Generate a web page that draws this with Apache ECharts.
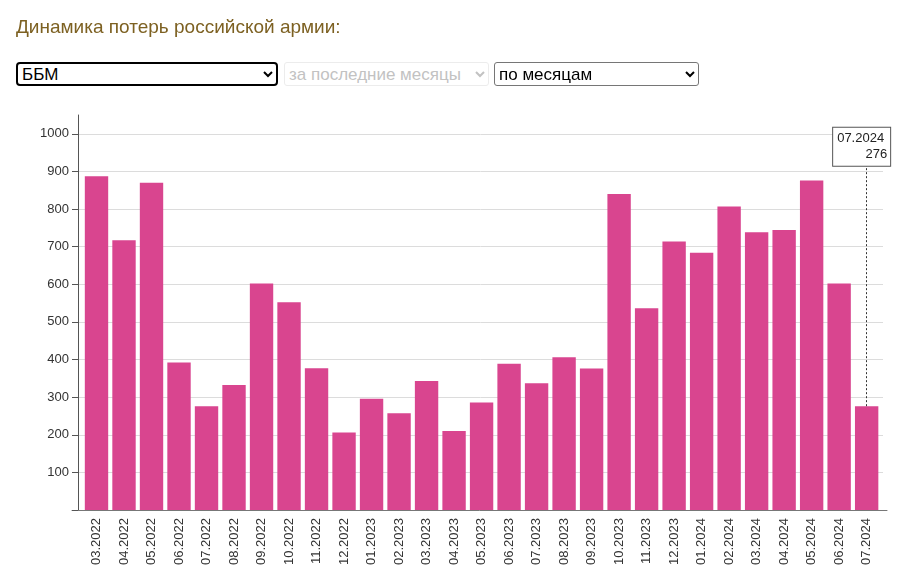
<!DOCTYPE html>
<html>
<head>
<meta charset="utf-8">
<script src="https://cdn.jsdelivr.net/npm/echarts@6/dist/echarts.min.js"></script>
<style>
  html, body { margin: 0; padding: 0; background: #fff; }
  #chart { position: absolute; left: 0; top: 0; width: 908px; height: 588px; }
  select { position: absolute; font-family: Arial, "Liberation Sans", sans-serif; font-size: 17px; height: 24px; box-sizing: border-box; background: #fff; z-index: 10; padding-top: 0; padding-bottom: 0; }
  #s1 { left: 16px; top: 62px; width: 262px; border: 2px solid #000; border-radius: 4px; color: #000; }
  #s2 { left: 284px; top: 62px; width: 205px; border: 1px solid #e4e4e4; border-radius: 3px; color: #a8a8a8; }
  #s3 { left: 494px; top: 62px; width: 205px; border: 1px solid #767676; border-radius: 3px; color: #000; }
</style>
</head>
<body>
<div id="chart"></div>
<select id="s1"><option>ББМ</option></select>
<select id="s2" disabled><option>за последние месяцы</option></select>
<select id="s3"><option>по месяцам</option></select>
<script>
const titleText = 'Динамика потерь российской армии:';
const months = ['03.2022','04.2022','05.2022','06.2022','07.2022','08.2022','09.2022','10.2022','11.2022','12.2022',
  '01.2023','02.2023','03.2023','04.2023','05.2023','06.2023','07.2023','08.2023','09.2023','10.2023','11.2023','12.2023',
  '01.2024','02.2024','03.2024','04.2024','05.2024','06.2024','07.2024'];
const losses = [887,717,870,392,276,332,602,552,377,206,
  296,257,343,210,286,389,337,406,376,840,536,714,
  684,807,738,744,876,602,276];
const yLabelValues = [100,200,300,400,500,600,700,800,900,1000];
const yTickValues = [0,100,200,300,400,500,600,700,800,900,1000];
const highlightIndex = 28;

const FONT = 'Arial, "Liberation Sans", sans-serif';
const chart = echarts.init(document.getElementById('chart'), null, { renderer: 'canvas' });
const hlCat = months[highlightIndex];
const hlVal = losses[highlightIndex];

chart.setOption({
  animation: false,
  backgroundColor: '#fff',
  title: {
    text: titleText, left: 16, top: 18, padding: 0,
    textStyle: { fontFamily: FONT, fontSize: 19, fontWeight: 'normal', color: '#7d6122' }
  },
  grid: [
    { left: 82.75, right: 27.6, top: 115, bottom: 78 },
    { left: 78, right: 25, top: 115, bottom: 78 },
    { left: 72, right: 21, top: 115, bottom: 78 }
  ],
  xAxis: [
    { gridIndex: 0, type: 'category', data: months,
      axisLine: { show: false },
      axisTick: { alignWithLabel: true, length: 5, lineStyle: { color: '#666' } },
      axisLabel: { rotate: 90, fontSize: 13, color: '#333', margin: 8, fontFamily: FONT, interval: 0 },
      splitLine: { show: false } },
    { gridIndex: 1, type: 'value', min: 0, max: 1, show: false },
    { gridIndex: 2, type: 'value', min: 0, max: 1,
      axisLine: { show: true, lineStyle: { color: '#777' } },
      axisTick: { show: false }, axisLabel: { show: false }, splitLine: { show: false } }
  ],
  yAxis: [
    { gridIndex: 0, type: 'value', min: 0, max: 1050, show: false },
    { gridIndex: 1, type: 'value', min: 0, max: 1050, interval: 100,
      axisLine: { show: true, lineStyle: { color: '#555' } },
      axisTick: { show: true, length: 6, lineStyle: { color: '#555' }, customValues: yTickValues },
      axisLabel: { fontSize: 13, color: '#333', margin: 9, fontFamily: FONT, customValues: yLabelValues,
        formatter: function (v) { return String(v); } },
      splitLine: { show: true, lineStyle: { color: '#dcdcdc', width: 1 } } },
    { gridIndex: 2, type: 'value', min: 0, max: 1, show: false }
  ],
  series: [{
    type: 'bar',
    xAxisIndex: 0, yAxisIndex: 0,
    data: losses,
    barCategoryGap: '15%',
    itemStyle: { color: '#d9458f' },
    markLine: {
      silent: true,
      symbol: 'none',
      lineStyle: { color: '#333', type: [2, 2], width: 1 },
      label: {
        show: true, position: 'end', distance: 0,
        formatter: '{a|' + hlCat + '}\n{b|' + hlVal + '}',
        backgroundColor: '#fff', borderColor: '#555', borderWidth: 1,
        padding: [3, 3, 3, 4], offset: [-5, 0],
        rich: {
          a: { fontSize: 13, color: '#222', fontFamily: FONT, width: 50, align: 'left', lineHeight: 16 },
          b: { fontSize: 13, color: '#222', fontFamily: FONT, width: 50, align: 'right', lineHeight: 16 }
        }
      },
      data: [[ { coord: [hlCat, hlVal] }, { coord: [hlCat, 915] } ]]
    }
  }]
});
</script>
</body>
</html>
